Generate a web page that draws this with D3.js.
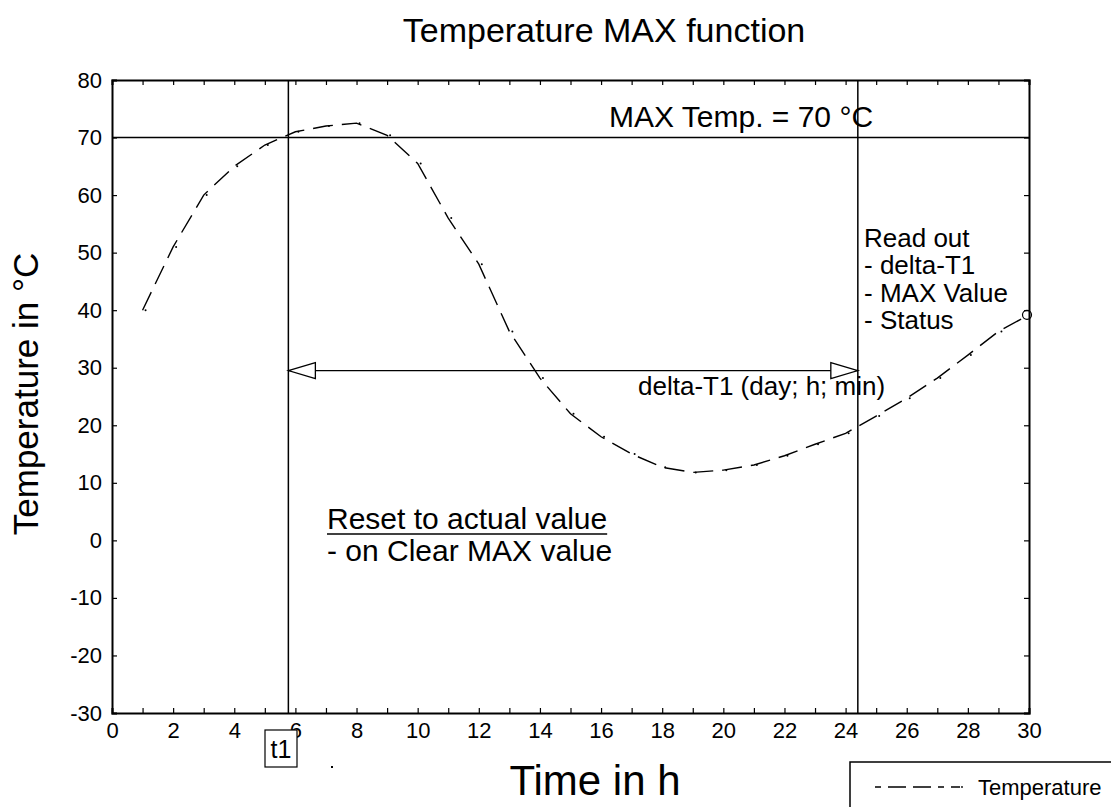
<!DOCTYPE html>
<html>
<head>
<meta charset="utf-8">
<script src="https://cdn.jsdelivr.net/npm/d3@7"></script>
<style>
  body { margin: 0; background: #fff; }
  svg { font-family: "Liberation Sans", Arial, Helvetica, sans-serif; }
</style>
</head>
<body>
<div id="chart"></div>
<script>
// data
var hours = [1, 2, 3, 4, 5, 6, 7, 8, 9, 10, 11, 12, 13, 14, 15, 16, 17, 18, 19, 20, 21, 22, 23, 24, 25, 26, 27, 28, 29, 30];
var temps = [40, 51, 60, 65, 68.7, 71, 72, 72.5, 70.4, 65.5, 56, 48, 36.3, 28.2, 22, 18, 15, 12.7, 11.8, 12.2, 13.1, 14.7, 16.7, 18.6, 21.6, 24.7, 28.2, 32.2, 36.3, 39.2];
var xTicks = [0, 2, 4, 6, 8, 10, 12, 14, 16, 18, 20, 22, 24, 26, 28, 30];
var yTicks = [-30, -20, -10, 0, 10, 20, 30, 40, 50, 60, 70, 80];
var maxTemp = 70;
var t1 = 5.77;
var t2 = 24.4;
var arrowY = 29.5;
var readOut = ["Read out", "- delta-T1", "- MAX Value", "- Status"];

var svgWidth = 1111;
var svgHeight = 807;
var margin = { top: 80, bottom: 94, right: 82, left: 112 };
var width = svgWidth - margin.left - margin.right;
var height = svgHeight - margin.top - margin.bottom;

var svg = d3.select("#chart").append("svg")
  .attr("width", svgWidth)
  .attr("height", svgHeight);

var chartGroup = svg.append("g")
  .attr("transform", `translate(${margin.left}, ${margin.top})`);

var x = d3.scaleLinear().domain([0, 30]).range([0, width]);
var y = d3.scaleLinear().domain([-30, 80]).range([height, 0]);

// ticks every hour on bottom and top, every 10 on both sides, pointing inward
var minorX = d3.range(0, 31, 1);
var xAxis = d3.axisBottom(x).tickValues(minorX).tickSize(-5)
  .tickFormat(d => xTicks.includes(d) ? String(d) : "");
var xTop = d3.axisTop(x).tickValues(minorX).tickSize(-5).tickFormat("");
var yAxis = d3.axisLeft(y).tickValues(yTicks).tickSize(-5).tickFormat(d => String(d));
var yRight = d3.axisRight(y).tickValues(yTicks).tickSize(-5).tickFormat("");

function styleAxis(g) {
  g.select(".domain").attr("stroke", "#000").attr("stroke-width", 2);
  g.selectAll(".tick line").attr("stroke", "#000").attr("stroke-width", 1.2);
  g.selectAll(".tick text").attr("fill", "#000").style("font-size", "22px")
    .style("font-family", "Liberation Sans, Arial, sans-serif");
}

chartGroup.append("g").attr("transform", `translate(0, ${height})`).call(xAxis).call(styleAxis)
  .selectAll(".tick text").attr("dy", "1.0em");
chartGroup.append("g").call(xTop).call(styleAxis);
chartGroup.append("g").call(yAxis).call(styleAxis)
  .selectAll(".tick text").attr("x", -10);
chartGroup.append("g").attr("transform", `translate(${width}, 0)`).call(yRight).call(styleAxis);

// reference lines
chartGroup.append("line")
  .attr("x1", 0).attr("x2", width)
  .attr("y1", y(maxTemp)).attr("y2", y(maxTemp))
  .attr("stroke", "#000").attr("stroke-width", 1.5);

[t1, t2].forEach(function(t) {
  chartGroup.append("line")
    .attr("x1", x(t)).attr("x2", x(t))
    .attr("y1", 0).attr("y2", height)
    .attr("stroke", "#000").attr("stroke-width", 1.5);
});

// double arrow between t1 and t2
var ay = y(arrowY);
chartGroup.append("line")
  .attr("x1", x(t1)).attr("x2", x(t2))
  .attr("y1", ay).attr("y2", ay)
  .attr("stroke", "#000").attr("stroke-width", 1.3);
chartGroup.append("path")
  .attr("d", `M${x(t1)},${ay} L${x(t1) + 27},${ay - 8} L${x(t1) + 27},${ay + 8} Z`)
  .attr("fill", "#fff").attr("stroke", "#000").attr("stroke-width", 1.3);
chartGroup.append("path")
  .attr("d", `M${x(t2)},${ay} L${x(t2) - 27},${ay - 8} L${x(t2) - 27},${ay + 8} Z`)
  .attr("fill", "#fff").attr("stroke", "#000").attr("stroke-width", 1.3);

// temperature curve
var tData = hours.map((h, i) => ({ h: h, t: temps[i] }));
var line = d3.line().x(d => x(d.h)).y(d => y(d.t));

chartGroup.append("path")
  .datum(tData)
  .attr("d", line)
  .attr("fill", "none")
  .attr("stroke", "#000")
  .attr("stroke-width", 1.4)
  .attr("stroke-dasharray", "20,9");

chartGroup.selectAll(".pt")
  .data(tData.slice(0, -1))
  .enter()
  .append("circle")
  .attr("class", "pt")
  .attr("cx", d => x(d.h) + 3)
  .attr("cy", d => y(d.t))
  .attr("r", 1)
  .attr("fill", "#000");

chartGroup.append("circle")
  .attr("cx", x(hours[hours.length - 1]) - 2)
  .attr("cy", y(temps[temps.length - 1]))
  .attr("r", 4.5)
  .attr("fill", "none")
  .attr("stroke", "#000")
  .attr("stroke-width", 1.2);

// annotations
chartGroup.append("text")
  .attr("x", 497).attr("y", 47)
  .style("font-size", "30px")
  .text("MAX Temp. = 70 °C");

var ro = chartGroup.append("text").style("font-size", "26px");
readOut.forEach(function(s, i) {
  ro.append("tspan").attr("x", 752).attr("y", 167 + i * 27.4).text(s);
});

chartGroup.append("text")
  .attr("x", 526).attr("y", 315)
  .style("font-size", "26px")
  .text("delta-T1 (day; h; min)");

var reset = chartGroup.append("text")
  .attr("x", 215).attr("y", 449)
  .style("font-size", "30px")
  .text("Reset to actual value");
var rw = reset.node().getComputedTextLength();
chartGroup.append("line")
  .attr("x1", 215).attr("x2", 215 + rw)
  .attr("y1", 454).attr("y2", 454)
  .attr("stroke", "#000").attr("stroke-width", 1.5);
chartGroup.append("text")
  .attr("x", 215).attr("y", 481)
  .style("font-size", "30px")
  .text("- on Clear MAX value");

// t1 marker below the axis
var t1g = svg.append("g");
t1g.append("rect")
  .attr("x", 265).attr("y", 730)
  .attr("width", 32).attr("height", 37)
  .attr("fill", "#fff").attr("stroke", "#000").attr("stroke-width", 1.2);
t1g.append("text")
  .attr("x", 281).attr("y", 758)
  .attr("text-anchor", "middle")
  .style("font-size", "25px")
  .text("t1");
svg.append("rect").attr("x", 331).attr("y", 766).attr("width", 2).attr("height", 2).attr("fill", "#000");

// titles
svg.append("text")
  .attr("x", 604).attr("y", 42)
  .attr("text-anchor", "middle")
  .style("font-size", "34px")
  .text("Temperature MAX function");

svg.append("text")
  .attr("x", 595).attr("y", 795)
  .attr("text-anchor", "middle")
  .style("font-size", "42px")
  .text("Time in h");

svg.append("text")
  .attr("transform", "translate(38, 394) rotate(-90)")
  .attr("text-anchor", "middle")
  .style("font-size", "35px")
  .text("Temperature in °C");

// legend, partly outside the picture
var legend = svg.append("g");
legend.append("rect")
  .attr("x", 850).attr("y", 762)
  .attr("width", 300).attr("height", 80)
  .attr("fill", "#fff").attr("stroke", "#000").attr("stroke-width", 1.5);
legend.append("line")
  .attr("x1", 875).attr("x2", 960)
  .attr("y1", 787).attr("y2", 787)
  .attr("stroke", "#000").attr("stroke-width", 1.4)
  .attr("stroke-dasharray", "6,7,18,7,18,7");
legend.append("circle").attr("cx", 962).attr("cy", 787).attr("r", 0.9).attr("fill", "#000");
legend.append("text")
  .attr("x", 978).attr("y", 795)
  .style("font-size", "22px")
  .text("Temperature");
</script>
</body>
</html>
